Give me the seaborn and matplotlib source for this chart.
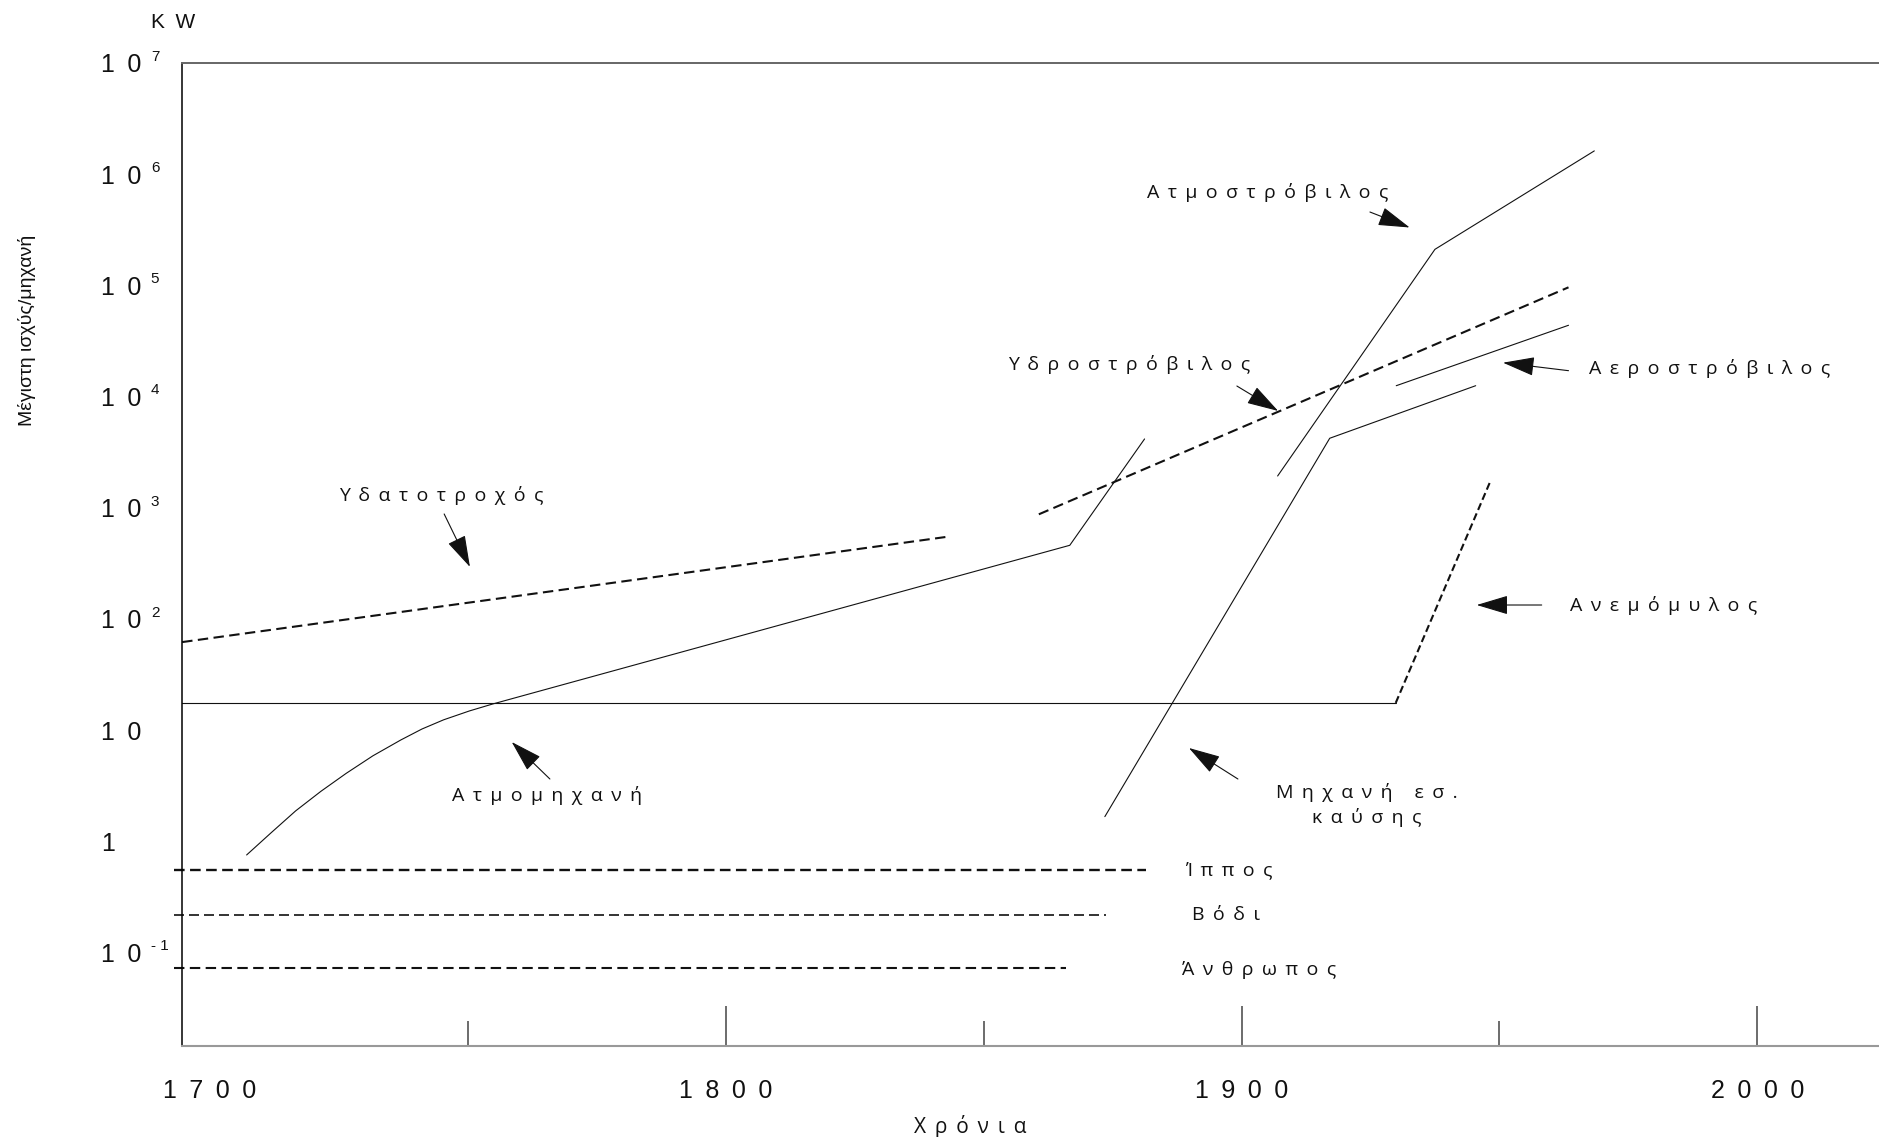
import matplotlib
matplotlib.use("Agg")
import matplotlib.pyplot as plt
import pandas as pd
import seaborn as sns

# ---------------------------------------------------------------------------
# Maximum power per machine (kW) against year
# ---------------------------------------------------------------------------
water_wheel_year = [1694.6, 1842.6]
water_wheel_kw = [62, 546]

steam_engine_year = [1707.1, 1711.8, 1716.6, 1721.5, 1726.4, 1731.6, 1737.0, 1741.1,
                     1745.3, 1750.3, 1754.8, 1866.7, 1881.2]
steam_engine_kw = [0.755, 1.19, 1.88, 2.82, 4.09, 5.89, 8.17, 10.25,
                   12.4, 14.9, 17.2, 460, 4160]

windmill_flat_year = [1694.6, 1929.9]
windmill_flat_kw = [17.6, 17.6]
windmill_rise_year = [1929.9, 1948.1]
windmill_rise_kw = [17.6, 1671]

hydro_turbine_year = [1860.7, 1963.4]
hydro_turbine_kw = [874, 96100]

steam_turbine_year = [1907.0, 1937.5, 1968.4]
steam_turbine_kw = [1932, 211000, 1620000]

combustion_year = [1873.5, 1917.1, 1945.4]
combustion_kw = [1.67, 4220, 12530]

gas_turbine_year = [1930.0, 1963.4]
gas_turbine_kw = [12530, 43800]

horse_year = [1693.1, 1881.5]
horse_kw = [0.553, 0.553]
ox_year = [1693.1, 1873.8]
ox_kw = [0.218, 0.218]
human_year = [1693.1, 1866.0]
human_kw = [0.0731, 0.0731]

# axis ticks
x_major_years = [1700, 1800, 1900, 2000]
x_minor_years = [1750, 1850, 1950]
y_exponents = [-1, 0, 1, 2, 3, 4, 5, 6, 7]

# labelled arrows: text, text position, arrow tail, arrow tip (year, kW)
arrow_labels = ["Υδατοτροχός", "Ατμομηχανή", "Υδροστρόβιλος", "Ατμοστρόβιλος",
                "Αεροστρόβιλος", "Ανεμόμυλος", "Μηχανή εσ.\nκαύσης"]
arrow_text_pos = [(1744.8, 1303), (1765.3, 2.56), (1878.2, 19630), (1905.1, 677600),
                  (1990.8, 18070), (1981.9, 133.6), (1924.3, 2.12)]
arrow_tail = [(1745.4, 880), (1765.9, 3.64), (1899.1, 12450), (1924.9, 457000),
              (1963.4, 17100), (1958.2, 133.6), (1899.3, 3.64)]
arrow_tip = [(1750.4, 294), (1758.5, 7.83), (1907.1, 7430), (1932.6, 331700),
             (1950.7, 20180), (1945.6, 133.6), (1889.8, 6.92)]

# muscle power labels (left edge position)
muscle_labels = ["Ίππος", "Βόδι", "Άνθρωπος"]
muscle_label_pos = [(1889.0, 0.553), (1890.4, 0.218), (1888.4, 0.0698)]

# ---------------------------------------------------------------------------
sns.set_theme(style="white")
plt.rcParams["font.family"] = ["Liberation Sans", "DejaVu Sans"]
label_font = ["Open Sans", "DejaVu Sans"]
tick_font = ["Liberation Sans", "DejaVu Sans"]
INK = "#111111"
LABEL_GAP = " \u2009"


def spaced(text, gap):
    """Letter-spaced version of a label, line by line."""
    return "\n".join(gap.join(line) for line in text.split("\n"))


fig = plt.figure(figsize=(18.79, 11.37), dpi=100)
ax = fig.add_axes([182 / 1879, 91 / 1137, 1697 / 1879, 983 / 1137])
ax.set_facecolor("white")
ax.set_yscale("log")


def draw(years, values, lw, dash=None):
    df = pd.DataFrame({"year": years, "kw": values})
    kws = dict(color=INK, linewidth=lw, clip_on=False)
    if dash is not None:
        kws["linestyle"] = (0, dash)
    sns.lineplot(data=df, x="year", y="kw", ax=ax, estimator=None, sort=False, **kws)


draw(water_wheel_year, water_wheel_kw, 1.5, (5, 2.6))
draw(steam_engine_year, steam_engine_kw, 0.8)
draw(windmill_flat_year, windmill_flat_kw, 0.8)
draw(windmill_rise_year, windmill_rise_kw, 1.5, (3.5, 1.8))
draw(hydro_turbine_year, hydro_turbine_kw, 1.5, (5, 2.6))
draw(steam_turbine_year, steam_turbine_kw, 0.8)
draw(combustion_year, combustion_kw, 0.8)
draw(gas_turbine_year, gas_turbine_kw, 0.8)
draw(horse_year, horse_kw, 1.7, (4.5, 2.3))
draw(ox_year, ox_kw, 1.2, (6, 3))
draw(human_year, human_kw, 1.5, (5, 2.6))

# arrows with their labels
for text, pos, tail, tip in zip(arrow_labels, arrow_text_pos, arrow_tail, arrow_tip):
    ax.text(pos[0], pos[1], spaced(text, LABEL_GAP), ha="center", va="center",
            fontsize=14, family=label_font, color=INK, linespacing=1.45)
    ax.annotate("", xy=tip, xytext=tail,
                arrowprops=dict(arrowstyle="-|>,head_length=2.0,head_width=0.6",
                                mutation_scale=10, color=INK, lw=0.8,
                                shrinkA=0, shrinkB=0))

for text, pos in zip(muscle_labels, muscle_label_pos):
    ax.text(pos[0], pos[1], spaced(text, LABEL_GAP), ha="left", va="center",
            fontsize=14, family=label_font, color=INK)

# axes limits and ticks
ax.set_xlim(1694.57, 2023.6)
ax.set_ylim(10 ** -1.84, 1e7)

ax.set_xticks(x_major_years)
ax.set_xticklabels([spaced(str(y), "\u2002") for y in x_major_years],
                   fontsize=18, family=tick_font, color=INK)
ax.set_xticks(x_minor_years, minor=True)
ax.tick_params(axis="x", which="major", direction="in", length=29, width=1.1,
               color="#444444", pad=24, bottom=True)
ax.tick_params(axis="x", which="minor", direction="in", length=18, width=1.1,
               color="#444444", bottom=True)
ax.xaxis.get_major_ticks()[0].tick1line.set_visible(False)

ax.yaxis.set_minor_locator(matplotlib.ticker.NullLocator())
ax.set_yticks([10.0 ** k for k in y_exponents])
ax.set_yticklabels(["1" if k == 0 else spaced("10", "\u2002") for k in y_exponents],
                   fontsize=18, family=tick_font, color=INK)
ax.tick_params(axis="y", which="major", length=0, pad=58, left=True)
for t in ax.get_yticklabels():
    t.set_ha("left")

# exponents next to the "1 0" labels
for k in y_exponents:
    if k in (0, 1):
        continue
    ax.annotate(spaced(str(k), " "), xy=(0, 10.0 ** k),
                xycoords=ax.get_yaxis_transform(), xytext=(-22.5, 4.5),
                textcoords="offset points", ha="left", va="center",
                fontsize=11, family=tick_font, color=INK, annotation_clip=False)

# spines
ax.spines["right"].set_visible(False)
ax.spines["left"].set_color("black")
ax.spines["left"].set_linewidth(1.1)
ax.spines["top"].set_color("#666666")
ax.spines["top"].set_linewidth(1.4)
ax.spines["bottom"].set_color("#999999")
ax.spines["bottom"].set_linewidth(1.5)
ax.grid(False)

# axis titles
ax.set_xlabel(spaced("Χρόνια", LABEL_GAP), fontsize=15, family=label_font, color=INK)
ax.xaxis.label.set_va("center")
ax.xaxis.set_label_coords((970 - 182) / 1697, -(1127 - 1046) / 983)

ax.set_ylabel("Μέγιστη ισχύς/μηχανή", fontsize=14, family=tick_font, color=INK)
ax.yaxis.label.set_va("center")
ax.yaxis.set_label_coords((27 - 182) / 1697, (1046 - 330) / 983)

fig.text(173 / 1879, 1 - 22.5 / 1137, spaced("KW", "\u2002"), ha="center", va="center",
         fontsize=15, family=tick_font, color=INK)

fig.savefig("out.png", dpi=100, facecolor="white")
